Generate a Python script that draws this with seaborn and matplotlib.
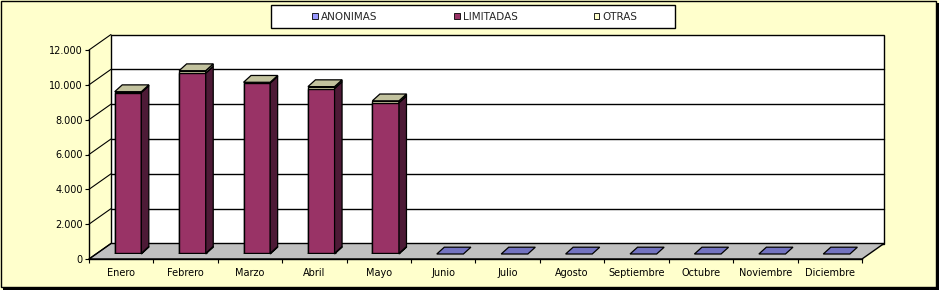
import numpy as np
import pandas as pd
import matplotlib
matplotlib.use("Agg")
import matplotlib.pyplot as plt
import seaborn as sns
from matplotlib.patches import Polygon, Rectangle, Patch
import matplotlib.ticker as mticker

# ---------------- data ----------------
months = ["Enero", "Febrero", "Marzo", "Abril", "Mayo", "Junio", "Julio",
          "Agosto", "Septiembre", "Octubre", "Noviembre", "Diciembre"]
anonimas = [40, 45, 40, 40, 35, 0, 0, 0, 0, 0, 0, 0]
limitadas = [9230, 10340, 9770, 9460, 8650, 0, 0, 0, 0, 0, 0, 0]
otras = [50, 140, 50, 110, 110, 0, 0, 0, 0, 0, 0, 0]
series_names = ["ANONIMAS", "LIMITADAS", "OTRAS"]
y_ticks = [0, 2000, 4000, 6000, 8000, 10000, 12000]

# ---------------- style ----------------
sns.set_theme(style="white")
plt.rcParams["font.family"] = ["DejaVu Sans"]
FS = 7
LFS = 7.5

BG = "#FFFFCC"
FLOOR = "#C0C0C0"
front_cols = ["#9999FF", "#993366", "#FFFFCC"]
top_cols = ["#7373C0", "#732650", "#C2C29E"]
side_cols = ["#4D4D80", "#4D1A36", "#808066"]

W, H, DPI = 939, 290, 100
fig = plt.figure(figsize=(W / DPI, H / DPI), dpi=DPI, facecolor=BG)

# background / frame axes in pixel coordinates
bg = fig.add_axes([0, 0, 1, 1], zorder=-10)
bg.set_xlim(0, W)
bg.set_ylim(H, 0)
bg.axis("off")
bg.add_patch(Rectangle((0.5, 0.5), 935.5, 286.5, facecolor="none",
                       edgecolor="black", lw=1))
bg.add_patch(Rectangle((935.5, 3), 3.5, 287, facecolor="black", lw=0))
bg.add_patch(Rectangle((3, 286.5), 936, 3.5, facecolor="black", lw=0))
# legend box
bg.add_patch(Rectangle((271, 5), 404, 23, facecolor="white",
                       edgecolor="black", lw=1))

# ---------------- main (front plane) axes ----------------
X0, X1, YB, YT = 89, 862, 259, 50
n = len(months)
ax = fig.add_axes([X0 / W, (H - YB) / H, (X1 - X0) / W, (YB - YT) / H], zorder=1)
ax.set_xlim(-0.5, n - 0.5)
ax.set_ylim(0, 12000)
ax.patch.set_visible(False)

SX = n / (X1 - X0)          # data units per pixel (x)
SY = 12000 / (YB - YT)      # data units per pixel (y)
WDX, WDY = 22 * SX, 15.5 * SY   # depth of the wall
BDX, BDY = 7.5 * SX, 6.8 * SY   # depth of a bar

# back wall
ax.add_patch(Rectangle((-0.5 + WDX, WDY), n, 12000, facecolor="white",
                       edgecolor="black", lw=1, zorder=0.5, clip_on=False))
# floor
ax.add_patch(Polygon([(-0.5, 0), (n - 0.5, 0), (n - 0.5 + WDX, WDY),
                      (-0.5 + WDX, WDY)], closed=True, facecolor=FLOOR,
                     edgecolor="black", lw=1, zorder=0.6, clip_on=False))
# gridlines on wall + diagonal lines on left
for v in y_ticks:
    if 0 < v < 12000:
        ax.plot([-0.5 + WDX, n - 0.5 + WDX], [v + WDY, v + WDY], color="black",
                lw=1, zorder=0.7, clip_on=False)
    ax.plot([-0.5, -0.5 + WDX], [v, v + WDY], color="black", lw=0.8,
            zorder=0.7, clip_on=False)

for s in ["top", "right"]:
    ax.spines[s].set_visible(False)
for s in ["left", "bottom"]:
    ax.spines[s].set_color("black")
    ax.spines[s].set_linewidth(1)

ax.set_yticks(y_ticks)
ax.yaxis.set_major_formatter(mticker.FuncFormatter(
    lambda v, p: f"{int(v):,}".replace(",", ".")))
ax.tick_params(axis="y", which="major", length=3, width=0.8, color="black",
               pad=1.5, labelsize=FS, labelcolor="black", left=True)
ax.set_xticks(range(n))
ax.set_xticklabels(months)
ax.set_xticks(np.arange(-0.5, n, 1.0), minor=True)
ax.tick_params(axis="x", which="major", length=0, pad=6.5, labelsize=FS,
               labelcolor="black")
ax.tick_params(axis="x", which="minor", length=3, width=0.8, color="black",
               bottom=True)
ax.set_xlabel("")
ax.set_ylabel("")

# ---------------- bar plane axes (shifted into depth) ----------------
BSX, BSY = 6.8, 5
axb = fig.add_axes([(X0 + BSX) / W, (H - YB + BSY) / H, (X1 - X0) / W,
                    (YB - YT) / H], zorder=2)
axb.patch.set_visible(False)

df = pd.DataFrame({"mes": months, "ANONIMAS": anonimas,
                   "LIMITADAS": limitadas, "OTRAS": otras})
layers = [df["ANONIMAS"].to_numpy(), df["LIMITADAS"].to_numpy(),
          df["OTRAS"].to_numpy()]
cum = np.cumsum(np.vstack(layers), axis=0)
BAR_W = 0.413

for k in [2, 1, 0]:
    d = pd.DataFrame({"mes": months, "val": cum[k]})
    sns.barplot(data=d, x="mes", y="val", order=months, color=front_cols[k],
                saturation=1, width=BAR_W, edgecolor="black", linewidth=1.0,
                ax=axb, zorder=2)

axb.set_xlim(-0.5, n - 0.5)
axb.set_ylim(0, 12000)
axb.axis("off")

for i in range(n):
    xl, xr = i - BAR_W / 2, i + BAR_W / 2
    bottom = 0
    top_color = top_cols[0]
    for k in range(3):
        h = layers[k][i]
        if h > 0:
            axb.add_patch(Polygon(
                [(xr, bottom), (xr + BDX, bottom + BDY),
                 (xr + BDX, bottom + h + BDY), (xr, bottom + h)],
                closed=True, facecolor=side_cols[k], edgecolor="black",
                lw=0.9, zorder=3, clip_on=False))
            top_color = top_cols[k]
            bottom += h
    axb.add_patch(Polygon(
        [(xl, bottom), (xr, bottom), (xr + BDX, bottom + BDY),
         (xl + BDX, bottom + BDY)],
        closed=True, facecolor=top_color, edgecolor="black", lw=0.9,
        zorder=3, clip_on=False))

# ---------------- legend ----------------
handles = [Patch(facecolor=front_cols[k], edgecolor="black", lw=0.6)
           for k in range(3)]
fig.legend(handles, series_names, loc="center",
           bbox_to_anchor=(475 / W, 1 - 16.5 / H), ncol=3, frameon=False,
           fontsize=LFS, handlelength=0.55, handleheight=0.55,
           handletextpad=0.3, columnspacing=7.3, borderpad=0,
           borderaxespad=0)

fig.savefig("out.png", dpi=DPI, facecolor=BG)
